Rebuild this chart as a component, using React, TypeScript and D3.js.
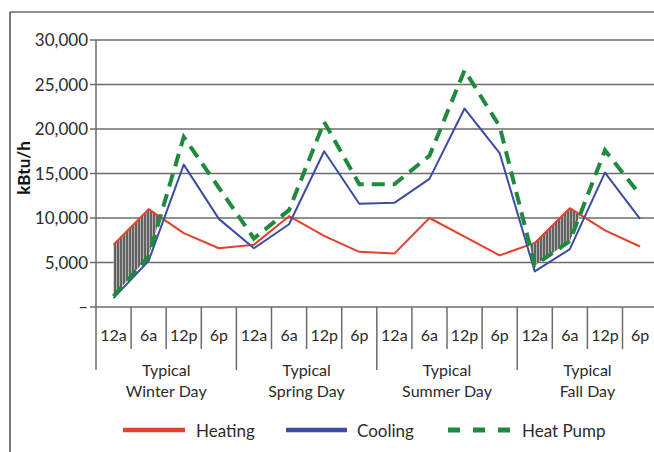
import React from "react";
import * as d3 from "d3";

const seasons = ["Winter", "Spring", "Summer", "Fall"];
const hours = ["12a", "6a", "12p", "6p"];
const yTicks = [0, 5000, 10000, 15000, 20000, 25000, 30000];

const heating = [7000, 11000, 8300, 6600, 7000, 10200, 8000, 6200, 6000, 10000, 7900, 5800, 7200, 11100, 8600, 6800];
const cooling = [1000, 5200, 16000, 9900, 6600, 9300, 17500, 11600, 11700, 14400, 22300, 17300, 4000, 6500, 15100, 9900];
const heatPump = [1200, 5700, 19100, 13400, 7700, 10900, 20800, 13800, 13800, 17000, 26600, 20300, 4700, 7400, 17600, 12600];

const W = 654;
const H = 452;
const left = 96;
const right = 657.6;
const top = 40;
const bottom = 307;

const RED = "#e6402c";
const BLUE = "#3d4ca2";
const GREEN = "#1e8a3e";
const GRID = "#6f6b69";
const TEXT = "#2b2b2b";
const FONT = "Lato, 'Open Sans', sans-serif";

export default function App() {
  const slots = d3.range(seasons.length * hours.length);
  const x = d3.scaleBand<number>().domain(slots).range([left, right]).padding(0);
  const y = d3.scaleLinear().domain([0, 30000]).range([bottom, top]);
  const cx = (i: number) => (x(i) as number) + x.bandwidth() / 2;
  const cxT = (t: number) => cx(0) + t * x.step();

  const lineGen = (vals: number[]) =>
    d3.line<number>().x((_, i) => cx(i)).y((v) => y(v))(vals) as string;

  function buildPoly(pts: { t: number; h: number; p: number }[]) {
    const topPts = pts.map((p) => [cxT(p.t), y(p.h)] as [number, number]);
    const botPts = pts
      .slice()
      .reverse()
      .map((p) => [cxT(p.t), y(p.p)] as [number, number]);
    return d3.line()([...topPts, ...botPts]) + "Z";
  }

  // shading polygons where heating exceeds heat pump
  const polys: string[] = [];
  let cur: { t: number; h: number; p: number }[] = [];
  for (let i = 0; i < heating.length; i++) {
    const d = heating[i] - heatPump[i];
    if (d > 0) cur.push({ t: i, h: heating[i], p: heatPump[i] });
    if (i < heating.length - 1) {
      const d1 = heating[i + 1] - heatPump[i + 1];
      if ((d > 0) !== (d1 > 0)) {
        const f = d / (d - d1);
        const hv = heating[i] + f * (heating[i + 1] - heating[i]);
        cur.push({ t: i + f, h: hv, p: hv });
        if (d > 0) {
          polys.push(buildPoly(cur));
          cur = [];
        }
      }
    }
  }
  if (cur.length > 1) polys.push(buildPoly(cur));

  const bounds = d3.range(slots.length + 1).map((i) =>
    i < slots.length ? (x(i) as number) : (x(slots.length - 1) as number) + x.bandwidth()
  );

  return (
    <>
      <style>{`body{margin:0}`}</style>
      <svg width={W} height={H} style={{ display: "block", background: "#fff" }} fontFamily={FONT}>
        <defs>
          <pattern id="hatch" width="3" height="6" patternUnits="userSpaceOnUse">
            <rect width="3" height="6" fill="#b2b2b2" />
            <line x1="1" y1="0" x2="1" y2="6" stroke="#474747" strokeWidth="1.5" />
          </pattern>
        </defs>
        {/* frame */}
        <line x1={10} y1={12} x2={W} y2={12} stroke="#222" strokeWidth={1.2} />
        <line x1={10} y1={12} x2={10} y2={H} stroke="#222" strokeWidth={1.2} />

        {/* gridlines */}
        {yTicks.map((t) => (
          <g key={t}>
            <line x1={left - 6} x2={right} y1={y(t)} y2={y(t)} stroke={GRID} strokeWidth={1.5} />
            <text x={88} y={y(t)} dy="0.36em" textAnchor="end" fontSize={17} fill={TEXT}>
              {t === 0 ? "–" : d3.format(",")(t)}
            </text>
          </g>
        ))}
        {/* y axis */}
        <line x1={left} x2={left} y1={top} y2={370} stroke={GRID} strokeWidth={1.5} />
        {/* x ticks */}
        {bounds.map((b, i) =>
          i === 0 ? null : (
            <line key={i} x1={b} x2={b} y1={bottom} y2={i % 4 === 0 ? 370 : 349} stroke={GRID} strokeWidth={1.5} />
          )
        )}
        {slots.map((i) => (
          <text key={i} x={cx(i)} y={341} textAnchor="middle" fontSize={16} fill={TEXT}>
            {hours[i % 4]}
          </text>
        ))}
        {seasons.map((s, k) => {
          const mid = (bounds[k * 4] + bounds[k * 4 + 4]) / 2;
          return (
            <g key={s}>
              <text x={mid} y={376} textAnchor="middle" fontSize={16} fill={TEXT}>
                Typical
              </text>
              <text x={mid} y={397} textAnchor="middle" fontSize={16} fill={TEXT}>
                {s} Day
              </text>
            </g>
          );
        })}

        {/* shading */}
        {polys.map((d, i) => (
          <path key={i} d={d} fill="url(#hatch)" stroke="none" />
        ))}

        {/* lines */}
        <path d={lineGen(heating)} fill="none" stroke={RED} strokeWidth={2} strokeLinejoin="round" />
        <path d={lineGen(cooling)} fill="none" stroke={BLUE} strokeWidth={2} strokeLinejoin="round" />
        <path d={lineGen(heatPump)} fill="none" stroke={GREEN} strokeWidth={4} strokeDasharray="13 8" />

        {/* y label */}
        <text
          transform={`translate(30,168) rotate(-90)`}
          textAnchor="middle"
          fontSize={17}
          fontWeight="bold"
          fill="#111"
        >
          kBtu/h
        </text>

        {/* legend */}
        <line x1={123} x2={185} y1={430} y2={430} stroke={RED} strokeWidth={4.5} />
        <text x={196} y={437} fontSize={17} fill={TEXT}>Heating</text>
        <line x1={286} x2={347} y1={430} y2={430} stroke={BLUE} strokeWidth={4.5} />
        <text x={357} y={437} fontSize={17} fill={TEXT}>Cooling</text>
        <line x1={448} x2={510} y1={430} y2={430} stroke={GREEN} strokeWidth={5} strokeDasharray="12 13" />
        <text x={522} y={437} fontSize={17} fill={TEXT}>Heat Pump</text>
      </svg>
    </>
  );
}
